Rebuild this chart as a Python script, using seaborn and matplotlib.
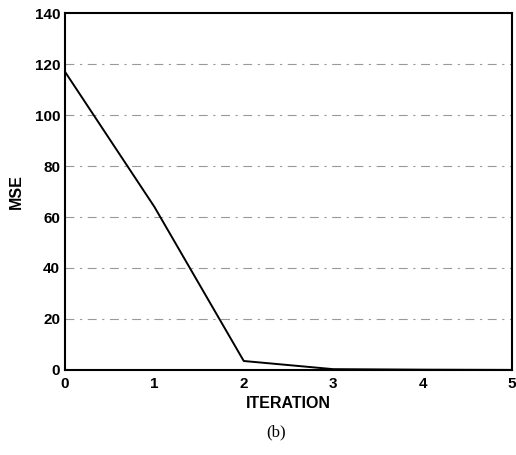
import matplotlib
matplotlib.use("Agg")
import matplotlib.pyplot as plt
import seaborn as sns
import pandas as pd
from matplotlib.ticker import MultipleLocator

iterations = [0, 1, 2, 3, 4, 5]
mse = [117, 64, 3.5, 0.3, 0.1, 0.0]
x_ticks = [0, 1, 2, 3, 4, 5]
y_ticks = [0, 20, 40, 60, 80, 100, 120, 140]

sns.set_style("white")
plt.rcParams['font.family'] = ['Liberation Sans', 'DejaVu Sans']
plt.rcParams['text.color'] = 'black'
plt.rcParams['axes.labelcolor'] = 'black'
plt.rcParams['xtick.color'] = 'black'
plt.rcParams['ytick.color'] = 'black'

df = pd.DataFrame({"ITERATION": iterations, "MSE": mse})

fig = plt.figure(figsize=(5.16, 4.55), dpi=100)
ax = fig.add_axes([0.126, 0.187, 0.866, 0.784])

for yv in y_ticks[1:-1]:
    ax.axhline(yv, color="#999999", lw=0.8, ls=(0, (8, 5, 2, 5)), zorder=0)

sns.lineplot(data=df, x="ITERATION", y="MSE", ax=ax, color="black", lw=1.4)

ax.set_xlim(0, 5)
ax.set_ylim(0, 140)
ax.set_xticks(x_ticks)
ax.set_yticks(y_ticks)
ax.yaxis.set_minor_locator(MultipleLocator(10))
ax.tick_params(axis="both", which="major", direction="in", length=6, width=1,
               labelsize=11, colors="black")
ax.tick_params(axis="x", which="major", pad=5)
ax.tick_params(axis="y", which="minor", direction="in", length=3, width=1,
               colors="black")
for lab in ax.get_xticklabels() + ax.get_yticklabels():
    lab.set_fontweight("bold")
for s in ax.spines.values():
    s.set_color("black")
    s.set_linewidth(1.5)
ax.set_xlabel("ITERATION", fontsize=11.5, fontweight="bold", labelpad=4,
              color="black")
ax.set_ylabel("MSE", fontsize=11.5, fontweight="bold", labelpad=8,
              color="black")

fig.text(0.535, 0.05, "(b)", ha="center", va="center", fontsize=12,
         color="black", family=["Liberation Serif", "DejaVu Serif"])

fig.savefig("out.png", dpi=100)
